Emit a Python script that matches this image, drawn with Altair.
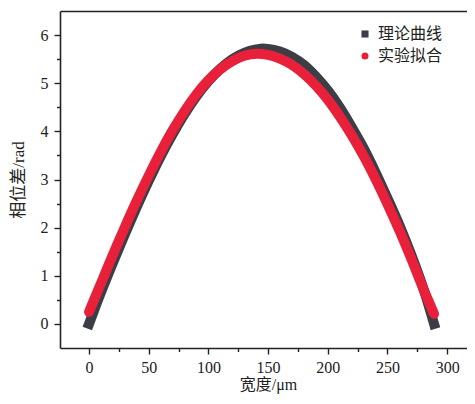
import altair as alt
import pandas as pd

# ---- data ----
series_names = ["理论曲线", "实验拟合"]

x_theory = [0, 6, 12, 18, 24, 30, 40, 50, 60, 70, 80, 90, 100, 110, 120, 130, 140, 146,
            150, 160, 170, 180, 190, 200, 210, 220, 230, 240, 250, 260, 270, 280, 289]
y_theory = [0.00, 0.40, 0.78, 1.15, 1.51, 1.86, 2.43, 2.97, 3.48, 3.94, 4.36, 4.73, 5.04,
            5.30, 5.50, 5.63, 5.70, 5.72, 5.71, 5.66, 5.55, 5.38, 5.14, 4.85, 4.50, 4.09,
            3.65, 3.15, 2.61, 2.05, 1.43, 0.74, 0.00]

x_fit = [0, 6, 12, 18, 24, 30, 40, 50, 60, 70, 80, 90, 100, 110, 120, 130, 141,
         150, 160, 170, 180, 190, 200, 210, 220, 230, 240, 250, 260, 270, 280, 289]
y_fit = [0.25, 0.61, 0.96, 1.32, 1.67, 2.01, 2.56, 3.08, 3.57, 4.02, 4.42, 4.77, 5.06,
         5.29, 5.46, 5.57, 5.61, 5.59, 5.51, 5.38, 5.19, 4.95, 4.66, 4.31, 3.92, 3.49,
         3.01, 2.49, 1.94, 1.35, 0.73, 0.21]

x_major = [0, 50, 100, 150, 200, 250, 300]
x_minor = [25, 75, 125, 175, 225, 275]
y_major = [0, 1, 2, 3, 4, 5, 6]
y_minor = [0.5, 1.5, 2.5, 3.5, 4.5, 5.5]

DARK = "#3b3e46"
RED = "#e8203a"
INK = "#222222"
SERIF = "Liberation Serif, Noto Sans CJK SC"
CJK = "Noto Sans CJK SC"

theory = pd.DataFrame({"x": x_theory, "y": y_theory, "series": series_names[0]})
fit = pd.DataFrame({"x": x_fit, "y": y_fit, "series": series_names[1]})
legend_df = pd.DataFrame({"x": [x_theory[0], x_fit[0]],
                          "y": [y_theory[0], y_fit[0]],
                          "series": series_names})

xscale = alt.Scale(domain=[-24.3, 316.6], nice=False, zero=False)
yscale = alt.Scale(domain=[-0.5, 6.5], nice=False, zero=False)

common = dict(grid=False, domainColor=INK, domainWidth=1.6, tickColor=INK, tickWidth=1.4)

x_main_axis = alt.Axis(orient="bottom", values=x_major, tickSize=6, labelPadding=5,
                       labelFont=SERIF, labelFontSize=16, labelColor=INK,
                       title="宽度/μm", titleFont=SERIF, titleFontSize=16,
                       titleFontWeight="normal", titleColor=INK,
                       titleX=208, titleY=36, titleBaseline="middle", **common)
y_main_axis = alt.Axis(orient="left", values=y_major, tickSize=6, labelPadding=6,
                       labelFont=SERIF, labelFontSize=16, labelColor=INK,
                       title="相位差/rad", titleFont=SERIF, titleFontSize=17,
                       titleFontWeight="normal", titleColor=INK,
                       titleX=-42, titleY=168.5, titleBaseline="middle", **common)
x_minor_axis = alt.Axis(orient="bottom", values=x_minor, tickSize=3.5, labels=False,
                        domain=False, title="", **common)
y_minor_axis = alt.Axis(orient="left", values=y_minor, tickSize=3.5, labels=False,
                        domain=False, title="", **common)
x_top_axis = alt.Axis(orient="top", ticks=False, labels=False, domain=True, title="",
                      **common)

dark_line = alt.Chart(theory).mark_line(
    color=DARK, strokeWidth=10, strokeCap="square", interpolate="monotone"
).encode(
    x=alt.X("x:Q", scale=xscale, axis=x_main_axis),
    y=alt.Y("y:Q", scale=yscale, axis=y_main_axis),
)

red_line = alt.Chart(fit).mark_line(
    color=RED, strokeWidth=10, strokeCap="round", interpolate="monotone"
).encode(
    x=alt.X("x:Q", scale=xscale, axis=x_minor_axis),
    y=alt.Y("y:Q", scale=yscale, axis=y_minor_axis),
)

leg = alt.Legend(orient="none", legendX=297, legendY=15, title=None,
                 labelFont=CJK, labelFontSize=16, labelColor=INK, labelOffset=5,
                 symbolSize=50, symbolOpacity=1, symbolStrokeWidth=0, rowPadding=6)

legend_layer = alt.Chart(legend_df).mark_point(filled=True, opacity=0).encode(
    x=alt.X("x:Q", scale=xscale, axis=x_top_axis),
    y=alt.Y("y:Q", scale=yscale, axis=None),
    color=alt.Color("series:N", scale=alt.Scale(domain=series_names, range=[DARK, RED]),
                    legend=leg),
    shape=alt.Shape("series:N", scale=alt.Scale(domain=series_names, range=["square", "circle"]),
                    legend=leg),
)

chart = alt.layer(dark_line, red_line, legend_layer).resolve_axis(
    x="independent", y="independent"
).properties(
    width=407, height=337,
    autosize=alt.AutoSizeParams(type="none"),
    padding={"left": 52, "top": 3, "right": 0, "bottom": 48},
).configure_view(stroke="transparent")

chart.save("out.html", embed_options={"renderer": "svg", "actions": False})
